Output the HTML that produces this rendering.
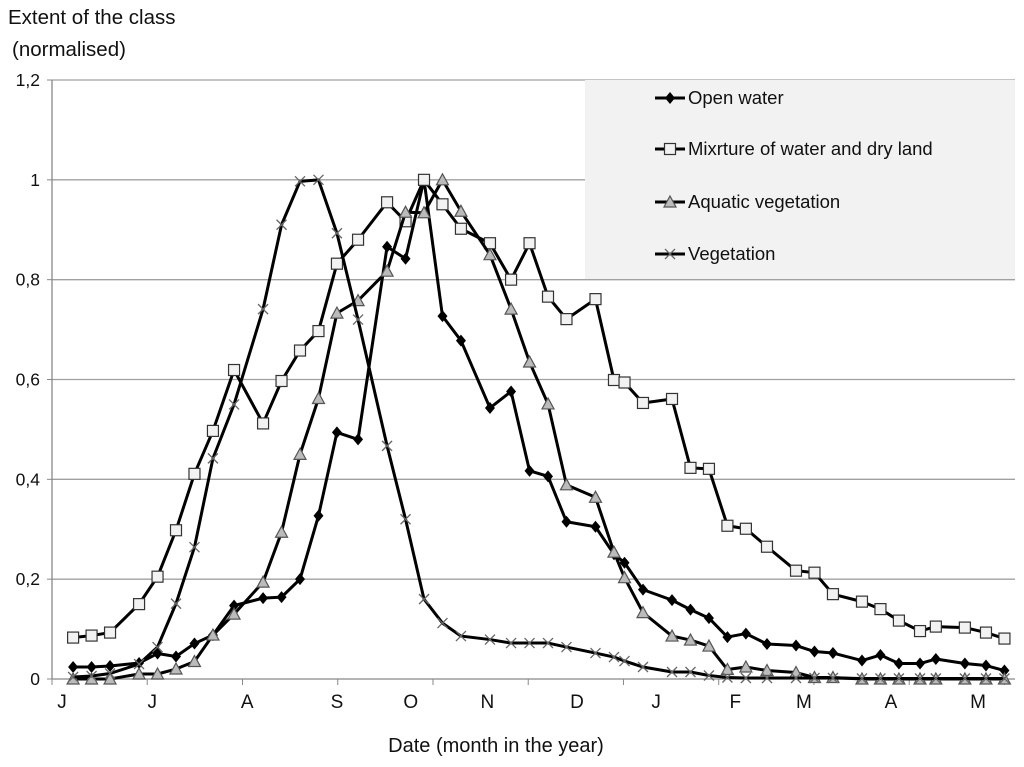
<!DOCTYPE html>
<html><head><meta charset="utf-8"><style>
body{margin:0;background:#fff;}
svg text{font-family:"Liberation Sans",sans-serif;fill:#111;}
</style></head><body>
<svg id="chart" width="1024" height="762" xmlns="http://www.w3.org/2000/svg">
<text x="8" y="24" font-size="20.5">Extent of the class</text>
<text x="12" y="56" font-size="20.5">(normalised)</text>
<text x="496" y="752" font-size="20" text-anchor="middle">Date (month in the year)</text>
<g id="grid"></g>
<rect x="585" y="80" width="430" height="199" fill="#f2f2f2"/>
<g id="series"></g>
<g id="legend"></g>
</svg>
<script>
const days=[8,15,22,33,40,47,54,61,69,80,87,94,101,108,116,127,134,141,148,155,166,174,181,188,195,206,213,217,224,235,242,249,256,263,271,282,289,296,307,314,321,329,335,346,354,361];
const openWater=[.024,.024,.026,.032,.051,.045,.071,.088,.147,.162,.164,.2,.327,.494,.48,.866,.842,1.0,.727,.678,.543,.576,.417,.406,.315,.305,.25,.233,.179,.158,.139,.122,.084,.091,.07,.067,.055,.052,.037,.048,.031,.031,.04,.031,.027,.017];
const mixture=[.083,.087,.093,.15,.205,.298,.411,.497,.619,.512,.597,.658,.697,.832,.88,.955,.917,1.0,.951,.902,.873,.8,.873,.766,.721,.761,.599,.594,.553,.561,.423,.421,.307,.301,.265,.217,.213,.17,.155,.14,.117,.096,.105,.103,.093,.081];
const aquatic=[0,0,0,.01,.01,.02,.035,.088,.13,.194,.294,.45,.562,.733,.758,.817,.935,.934,1.0,.937,.85,.741,.635,.551,.389,.364,.254,.203,.133,.086,.078,.066,.019,.024,.017,.013,.003,.003,0,0,0,0,0,0,0,0];
const vegetation=[.004,.006,.011,.03,.064,.151,.264,.442,.55,.741,.91,.997,1.0,.893,.72,.467,.32,.16,.112,.086,.079,.072,.072,.072,.064,.052,.044,.036,.024,.014,.014,.007,.003,.002,.002,.002,.002,.002,.001,.001,.001,.001,.001,.001,.001,.001];
const yTicks=[0,0.2,0.4,0.6,0.8,1,1.2];
const yTickLabels=["0","0,2","0,4","0,6","0,8","1","1,2"];
const monthLabels=["J","J","A","S","O","N","D","J","F","M","A","M"];
const monthDays=[3.8,38,74,108,136,165,199,229,259,285,318,351];
const seriesNames=["Open water","Mixrture of water and dry land","Aquatic vegetation","Vegetation"];

const NS="http://www.w3.org/2000/svg";
const X0=52,X1=1015,Y0=679,Y1=80;
const xs=d=>X0+d*(X1-X0)/365;
const ys=v=>Y0-v*(Y0-Y1)/1.2;
function mk(t,a,p){const e=document.createElementNS(NS,t);for(const k in a)e.setAttribute(k,a[k]);p.appendChild(e);return e;}
const grid=document.getElementById('grid');
yTicks.forEach((v,i)=>{
  if(v>0){const g=mk('line',{x1:X0,x2:X1,y1:ys(v),y2:ys(v),stroke:'#a0a0a0','stroke-width':1.3},grid);
  
  }
  mk('line',{x1:X0-5,x2:X0,y1:ys(v),y2:ys(v),stroke:'#888'},grid);
  const t=mk('text',{x:X0-12,y:ys(v)+6,'font-size':17.5,'text-anchor':'end'},grid);t.textContent=yTickLabels[i];
  
  
});
mk('line',{x1:X0,x2:X0,y1:Y1,y2:Y0,stroke:'#888','stroke-width':1.3},grid);
mk('line',{x1:X0,x2:X1,y1:Y0,y2:Y0,stroke:'#888','stroke-width':1.3},grid);
for(let k=0;k<=10;k++){const x=xs(k*36.1);mk('line',{x1:x,x2:x,y1:Y0,y2:Y0+6,stroke:'#888'},grid);}
monthLabels.forEach((m,i)=>{const t=mk('text',{x:xs(monthDays[i]),y:Y0+29,'font-size':19,'text-anchor':'middle'},grid);t.textContent=m;
  
  });

function marker(type,x,y,p){
  if(type==0)return mk('path',{d:`M${x},${y-6}L${x+5},${y}L${x},${y+6}L${x-5},${y}Z`,fill:'#000'},p);
  if(type==1)return mk('rect',{x:x-5.5,y:y-5.5,width:11,height:11,fill:'#f2f2f2',stroke:'#333','stroke-width':1.2},p);
  if(type==2)return mk('path',{d:`M${x},${y-6}L${x+6},${y+5}L${x-6},${y+5}Z`,fill:'#bbb',stroke:'#555','stroke-width':1.2},p);
  const g=mk('path',{d:`M${x-5},${y-5}L${x+5},${y+5}M${x+5},${y-5}L${x-5},${y+5}`,stroke:'#666','stroke-width':1.3,fill:'none'},p);return g;
}
const ser=document.getElementById('series');
[openWater,mixture,aquatic,vegetation].forEach((vals,si)=>{
  const g=mk('g',{},ser);
  
  
  const pts=vals.map((v,i)=>xs(days[i])+','+ys(v)).join(' ');
  mk('polyline',{points:pts,fill:'none',stroke:'#000','stroke-width':3,'stroke-linejoin':'round'},g);
  vals.forEach((v,i)=>{const m=marker(si,xs(days[i]),ys(v),g);
    
    });
});
const leg=document.getElementById('legend');
const legY=[98,149,202,254];
seriesNames.forEach((n,i)=>{
  const g=mk('g',{},leg);
  
  
  mk('line',{x1:655,x2:685,y1:legY[i],y2:legY[i],stroke:'#000','stroke-width':3},g);
  marker(i,670,legY[i],g);
  const t=mk('text',{x:688,y:legY[i]+6,'font-size':18.5},g);t.textContent=n;
});
</script>
</body></html>
